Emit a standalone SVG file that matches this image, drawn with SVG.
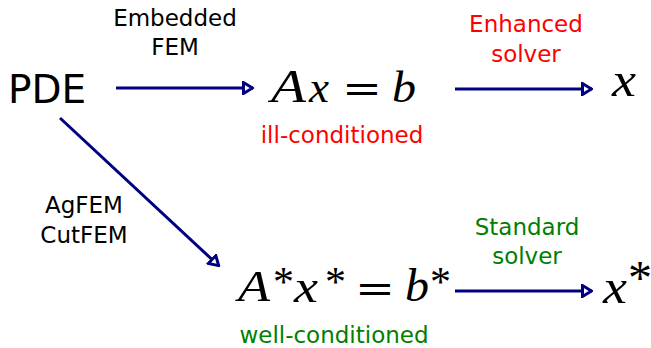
<svg xmlns="http://www.w3.org/2000/svg" width="651" height="348" viewBox="0 0 651 348">
  <style>
    .lbl { font-family: "DejaVu Sans", sans-serif; font-size: 23px; text-anchor: middle; }
    .math { font-family: "Liberation Serif", "Times New Roman", serif; font-style: italic; fill: #000; }
    .op { font-family: "DejaVu Serif", serif; font-style: normal; fill: #000; }
    .star { font-family: "Liberation Serif", serif; font-style: normal; fill: #000; }
    .conn { stroke: #000080; stroke-width: 3; fill: none; }
  </style>
  <defs>
    <marker id="head" viewBox="0 0 12 14" refX="11" refY="7" markerWidth="12" markerHeight="14" markerUnits="userSpaceOnUse" orient="auto">
      <path d="M1.5,1.5 L10.5,7 L1.5,12.5 Z" fill="#ffffff" stroke="#000080" stroke-width="3" stroke-linejoin="miter"/>
    </marker>
  </defs>

  <g id="connectors">
    <line class="conn" x1="116" y1="88" x2="253" y2="88" marker-end="url(#head)"/>
    <line class="conn" x1="455" y1="89" x2="592" y2="89" marker-end="url(#head)"/>
    <line class="conn" x1="455" y1="291" x2="592" y2="291" marker-end="url(#head)"/>
    <line class="conn" x1="60" y1="118" x2="219" y2="266" marker-end="url(#head)"/>
  </g>

  <g id="pde">
    <text x="47" y="103" font-family="DejaVu Sans, sans-serif" font-size="39" text-anchor="middle" fill="#000">PDE</text>
  </g>

  <g id="label-embedded">
    <text class="lbl" x="175" y="26" fill="#000">Embedded</text>
    <text class="lbl" x="175" y="55" fill="#000">FEM</text>
  </g>

  <g id="eq-ill">
    <text class="math" x="271" y="102" font-size="46" textLength="35" lengthAdjust="spacingAndGlyphs">A</text>
    <text class="math" x="309" y="102" font-size="44" textLength="20" lengthAdjust="spacingAndGlyphs">x</text>
    <text class="op" x="342" y="102" font-size="40" textLength="40" lengthAdjust="spacingAndGlyphs">=</text>
    <text class="math" x="392" y="102" font-size="45" textLength="24" lengthAdjust="spacingAndGlyphs">b</text>
    <text class="lbl" x="342" y="143" fill="#ff0000">ill-conditioned</text>
  </g>

  <g id="label-enhanced">
    <text class="lbl" x="526" y="32" fill="#ff0000">Enhanced</text>
    <text class="lbl" x="526" y="62" fill="#ff0000">solver</text>
  </g>

  <g id="sol-x">
    <text class="math" x="612" y="96" font-size="48" textLength="24" lengthAdjust="spacingAndGlyphs">x</text>
  </g>

  <g id="label-agfem">
    <text class="lbl" x="84" y="213" fill="#000">AgFEM</text>
    <text class="lbl" x="84" y="243" fill="#000">CutFEM</text>
  </g>

  <g id="eq-well">
    <text class="math" x="238" y="301" font-size="45" textLength="32" lengthAdjust="spacingAndGlyphs">A</text>
    <text class="star" x="273" y="296" font-size="42">*</text>
    <text class="math" x="294" y="302" font-size="47" textLength="24" lengthAdjust="spacingAndGlyphs">x</text>
    <text class="star" x="325" y="296" font-size="42">*</text>
    <text class="op" x="355" y="302" font-size="40" textLength="40" lengthAdjust="spacingAndGlyphs">=</text>
    <text class="math" x="405" y="301" font-size="46" textLength="24" lengthAdjust="spacingAndGlyphs">b</text>
    <text class="star" x="430" y="296" font-size="42">*</text>
    <text class="lbl" x="334" y="343" fill="#008000">well-conditioned</text>
  </g>

  <g id="label-standard">
    <text class="lbl" x="527" y="235" fill="#008000">Standard</text>
    <text class="lbl" x="527" y="264" fill="#008000">solver</text>
  </g>

  <g id="sol-xstar">
    <text class="math" x="603" y="303" font-size="48" textLength="24" lengthAdjust="spacingAndGlyphs">x</text>
    <text class="star" x="628" y="294" font-size="48">*</text>
  </g>
</svg>
